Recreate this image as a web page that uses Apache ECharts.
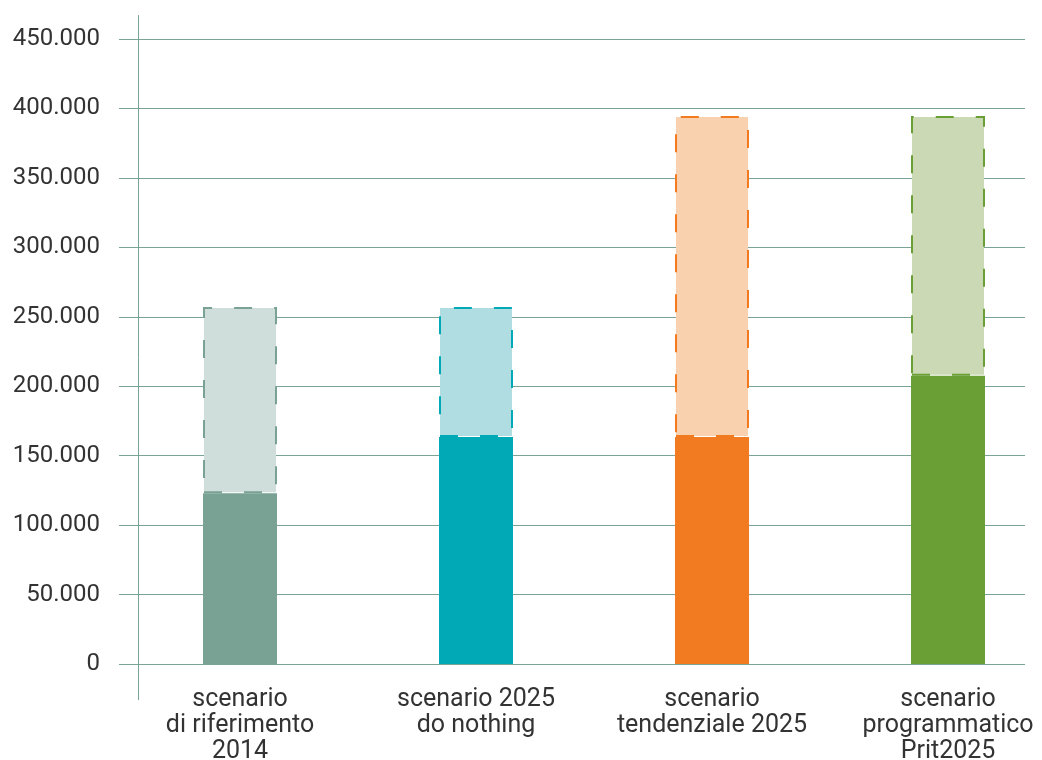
<!DOCTYPE html>
<html>
<head>
<meta charset="utf-8">
<script src="https://cdn.jsdelivr.net/npm/echarts@6/dist/echarts.min.js"></script>
<style>
  html, body { margin: 0; padding: 0; background: #fff; }
  #chart { width: 1042px; height: 760px; }
</style>
</head>
<body>
<div id="chart"></div>
<script>
/* global echarts:true */

var categories = [
  'scenario\ndi riferimento\n2014',
  'scenario 2025\ndo nothing',
  'scenario\ntendenziale 2025',
  'scenario\nprogrammatico\nPrit2025'
];
// lower (solid) part and total height of each bar
var baseValues = [123000, 163500, 163500, 207500];
var totalValues = [257000, 257000, 394500, 394500];

var solidColors = ['#79a194', '#00a9b5', '#f27b22', '#6a9f35'];
var lightColors = ['#cfdedb', '#b0dde2', '#fad1ae', '#cbdab5'];

var gridColor = '#7aa396';
var textColor = '#333333';
var fontName = 'Roboto';

var chart = echarts.init(document.getElementById('chart'));

var option = {
  animation: false,
  textStyle: { fontFamily: fontName },
  grid: [
    { left: 119, right: 17, top: 39, bottom: 96, outerBoundsMode: 'none', containLabel: false },
    { left: 122, width: 944, top: 39, bottom: 96, outerBoundsMode: 'none', containLabel: false }
  ],
  xAxis: [{
    gridIndex: 0,
    type: 'value',
    show: false
  }, {
    gridIndex: 1,
    type: 'category',
    data: categories,
    axisLine: { show: false },
    axisTick: { show: false },
    axisLabel: {
      margin: 23,
      fontSize: 25,
      lineHeight: 26,
      color: textColor,
      fontFamily: fontName,
      interval: 0
    }
  }],
  yAxis: [{
    gridIndex: 0,
    type: 'value',
    min: 0,
    max: 450000,
    interval: 50000,
    axisLine: { show: false },
    axisTick: { show: false },
    splitLine: { lineStyle: { color: gridColor, width: 1 } },
    axisLabel: {
      margin: 19,
      fontSize: 24,
      color: textColor,
      fontFamily: fontName,
      formatter: function(v) {
        return v === 0 ? '0' : String(v).replace(/\B(?=(\d{3})+(?!\d))/g, '.');
      }
    }
  }, {
    gridIndex: 1,
    type: 'value',
    min: 0,
    max: 450000,
    show: false
  }],
  graphic: [{
    type: 'line',
    shape: { x1: 138.5, y1: 15, x2: 138.5, y2: 700 },
    style: { stroke: gridColor, lineWidth: 1 },
    z: 1
  }],
  series: [{
    type: 'bar',
    xAxisIndex: 1,
    yAxisIndex: 1,
    stack: 'tot',
    barWidth: 74,
    data: baseValues.map(function(v, i) {
      return { value: v, itemStyle: { color: solidColors[i] } };
    })
  }, {
    type: 'bar',
    xAxisIndex: 1,
    yAxisIndex: 1,
    stack: 'tot',
    barWidth: 74,
    data: totalValues.map(function(v, i) {
      return {
        value: v - baseValues[i],
        itemStyle: {
          color: lightColors[i],
          borderColor: solidColors[i],
          borderWidth: 2,
          borderType: [18, 22]
        }
      };
    })
  }]
};

chart.setOption(option);
</script>
</body>
</html>
